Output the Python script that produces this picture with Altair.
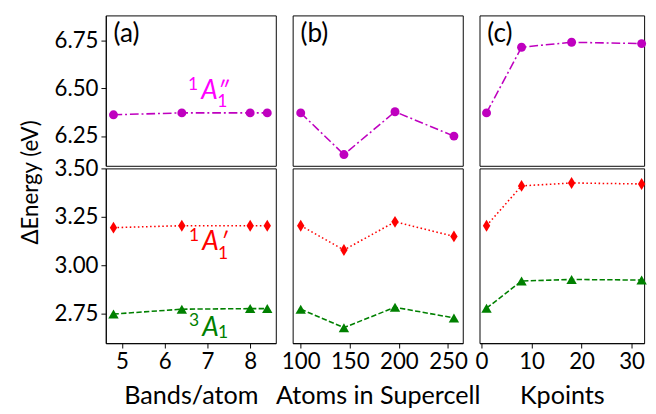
import altair as alt
import pandas as pd

FONT = "Lato"

# ---- data ----
bands = [4.8, 6.4, 8.0, 8.4]
bands_A1pp = [6.362, 6.372, 6.372, 6.372]
bands_A1p = [3.195, 3.205, 3.205, 3.205]
bands_3A1 = [2.75, 2.775, 2.778, 2.778]

atoms = [100, 144, 196, 256]
atoms_A1pp = [6.372, 6.153, 6.378, 6.25]
atoms_A1p = [3.205, 3.08, 3.225, 3.15]
atoms_3A1 = [2.775, 2.68, 2.785, 2.73]

kpts = [1, 8, 18, 32]
kpts_A1pp = [6.372, 6.717, 6.743, 6.736]
kpts_A1p = [3.205, 3.41, 3.425, 3.42]
kpts_3A1 = [2.78, 2.92, 2.928, 2.925]

x_titles = ["Bands/atom", "Atoms in Supercell", "Kpoints"]
x_ticks = [[5, 6, 7, 8], [100, 150, 200, 250], [0, 10, 20, 30]]
x_domains = [[4.62, 8.6], [91.8, 265], [-0.4, 32.5]]
panel_tags = ["(a)", "(b)", "(c)"]
top_ticks = [6.25, 6.5, 6.75]
bot_ticks = [2.75, 3.0, 3.25, 3.5]
top_domain = [6.094, 6.884]
bot_domain = [2.60, 3.50]

widths = [175.6, 175.7, 170]
H_TOP = 155.3
H_BOT = 180.5

MAG = "#bf00bf"
RED = "#ff0000"
GRN = "#008000"
THIN_DIAMOND = "M0,-1L0.62,0L0,1L-0.62,0Z"


def series(xs, ys, xa, ya, color, dash, shape, size):
    df = pd.DataFrame({"x": xs, "y": ys})
    base = alt.Chart(df)
    x = alt.X("x:Q", **xa)
    y = alt.Y("y:Q", **ya)
    line = base.mark_line(color=color, strokeDash=dash, strokeWidth=1.6).encode(x=x, y=y)
    pts = base.mark_point(shape=shape, filled=True, color=color, size=size,
                          opacity=1).encode(x=x, y=y)
    return line + pts


def tag(text):
    return alt.Chart(pd.DataFrame({"t": [text]})).mark_text(
        font=FONT, fontSize=27, align="left", baseline="alphabetic", color="black"
    ).encode(text="t:N", x=alt.value(8), y=alt.value(27))


def state_label(x, y, xa, ya, main, sup, sub, prime, color, sup_dy, sub_dy):
    df = pd.DataFrame({"x": [x], "y": [y]})
    parts = []
    parts.append(alt.Chart(df).mark_text(font=FONT, fontSize=27, fontStyle="italic",
                                         align="center", baseline="alphabetic",
                                         color=color, text=main))
    parts.append(alt.Chart(df).mark_text(font=FONT, fontSize=18, align="center",
                                         baseline="alphabetic", color=color,
                                         text=sup, dx=-17, dy=sup_dy))
    parts.append(alt.Chart(df).mark_text(font=FONT, fontSize=18, align="center",
                                         baseline="alphabetic", color=color,
                                         text=sub, dx=13, dy=sub_dy))
    if prime:
        parts.append(alt.Chart(df).mark_text(font=FONT, fontSize=24, fontStyle="italic",
                                             align="center", baseline="alphabetic",
                                             color=color, text=prime, dx=14, dy=-1))
    return [p.encode(x=alt.X("x:Q", **xa), y=alt.Y("y:Q", **ya)) for p in parts]


xs_all = [bands, atoms, kpts]
top_all = [bands_A1pp, atoms_A1pp, kpts_A1pp]
red_all = [bands_A1p, atoms_A1p, kpts_A1p]
grn_all = [bands_3A1, atoms_3A1, kpts_3A1]

top_row = []
bot_row = []
for i in range(3):
    xscale = alt.Scale(domain=x_domains[i], nice=False, zero=False)
    # top panel
    top_y_axis = (alt.Axis(values=top_ticks, format=".2f", title=None, grid=False,
                           tickSize=5, labelPadding=3)
                  if i == 0 else None)
    top_x = dict(scale=xscale, axis=None)
    top_y = dict(scale=alt.Scale(domain=top_domain, nice=False, zero=False), axis=top_y_axis)
    layers = [series(xs_all[i], top_all[i], top_x, top_y, MAG, [9, 3, 2, 3], "circle", 85),
              tag(panel_tags[i])]
    if i == 0:
        layers += state_label(7.05, 6.445, top_x, top_y, "A", "1", "1", "\u2033",
                              "#ff00ff", -9, 8)
    top_row.append(alt.layer(*layers).properties(width=widths[i], height=H_TOP))

    # bottom panel
    bot_y_axis = (alt.Axis(values=bot_ticks, format=".2f", title="\u0394Energy (eV)",
                           grid=False, tickSize=5, labelPadding=3, titleX=-71, titleY=14,
                           titleAngle=270, titleAlign="center", titleBaseline="alphabetic",
                           titleFontSize=23)
                  if i == 0 else None)
    bot_x = dict(scale=xscale,
                 axis=alt.Axis(values=x_ticks[i], title=x_titles[i], grid=False,
                               tickSize=5, labelPadding=3, titlePadding=10, format="d",
                               titleFontSize=26))
    bot_y = dict(scale=alt.Scale(domain=bot_domain, nice=False, zero=False), axis=bot_y_axis)
    layers = [series(xs_all[i], red_all[i], bot_x, bot_y, RED, [1.6, 2.6], THIN_DIAMOND, 150),
              series(xs_all[i], grn_all[i], bot_x, bot_y, GRN, [5.5, 2.4], "triangle-up", 115)]
    if i == 0:
        layers += state_label(7.07, 3.079, bot_x, bot_y, "A", "1", "1", "\u2032", RED, -9, 9)
        layers += state_label(7.07, 2.638, bot_x, bot_y, "A", "3", "1", None, GRN, -10, 2)
    bot_row.append(alt.layer(*layers).properties(width=widths[i], height=H_BOT))

chart = alt.concat(
    *(top_row + bot_row), columns=3,
    spacing={"row": 2, "column": 17}, bounds="flush",
).properties(
    padding={"left": 11, "top": 0, "right": 0, "bottom": 0},
    background="white",
).configure_view(
    stroke="black", strokeWidth=1
).configure_axis(
    labelFont=FONT, titleFont=FONT, labelFontSize=23, titleFontSize=23,
    titleFontWeight="normal", labelColor="black", titleColor="black",
    tickColor="black", domainColor="black", tickWidth=1, domainWidth=1
)

chart.save("out.html", embed_options={"renderer": "svg", "actions": False})
